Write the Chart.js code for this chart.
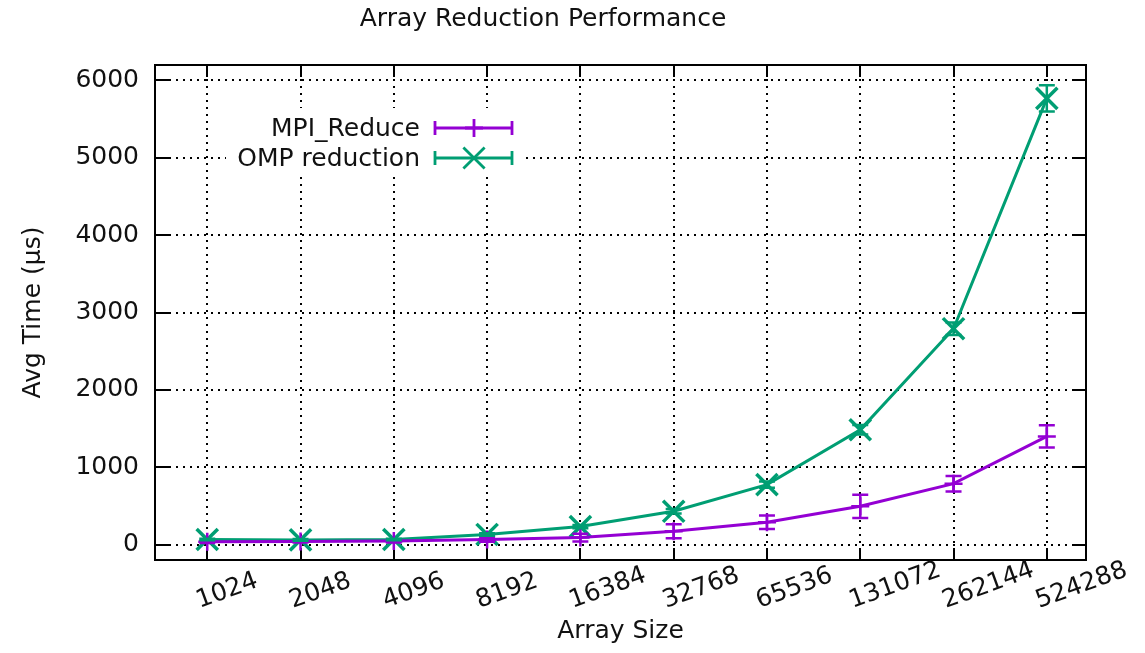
<!DOCTYPE html>
<html>
<head>
<meta charset="utf-8">
<script src="https://cdn.jsdelivr.net/npm/chart.js@4.4.1/dist/chart.umd.min.js"></script>
<style>
  html, body { margin: 0; padding: 0; background: #fff; }
  #wrap { width: 1145px; height: 653px; }
</style>
</head>
<body>
<div id="wrap"><canvas id="perfChart" width="1145" height="653"></canvas></div>
<script>
// values
const arraySizes = ['1024', '2048', '4096', '8192', '16384', '32768', '65536', '131072', '262144', '524288'];
const mpiTimes = [35, 40, 45, 65, 90, 172, 288, 494, 787, 1398];
const mpiErr   = [15, 15, 20, 30, 50, 90, 86, 150, 100, 145];
const ompTimes = [65, 60, 65, 130, 232, 430, 774, 1484, 2790, 5768];
const ompErr   = [10, 10, 10, 15, 20, 30, 40, 60, 80, 170];
const yTickValues = [0, 1000, 2000, 3000, 4000, 5000, 6000];

const FONT = 'DejaVu Sans';
const FSIZE = 25;
const PURPLE = '#9400d3';
const GREEN = '#009e73';

const toPoints = vals => vals.map((v, i) => ({ x: i, y: v }));

// gnuplot look: full frame, inward ticks, opaque key, error bars, rotated xtics
const gnuplotDecor = {
    id: 'gnuplotDecor',
    beforeDatasetsDraw(chart) {
        const { ctx, chartArea: a, scales: { x, y } } = chart;
        ctx.save();

        // opaque key box
        ctx.fillStyle = '#fff';
        ctx.fillRect(226, 108, 300, 68);

        ctx.strokeStyle = '#000';
        ctx.lineWidth = 2;
        ctx.strokeRect(a.left, a.top, a.right - a.left, a.bottom - a.top);

        ctx.beginPath();
        y.ticks.forEach(t => {
            const py = Math.round(y.getPixelForValue(t.value));
            ctx.moveTo(a.left, py); ctx.lineTo(a.left + 14, py);
            ctx.moveTo(a.right, py); ctx.lineTo(a.right - 14, py);
        });
        x.ticks.forEach(t => {
            const px = Math.round(x.getPixelForValue(t.value));
            ctx.moveTo(px, a.bottom); ctx.lineTo(px, a.bottom - 11);
            ctx.moveTo(px, a.top); ctx.lineTo(px, a.top + 12);
        });
        ctx.stroke();

        // key entries
        const rows = [128, 158];
        ctx.font = FSIZE + 'px ' + FONT;
        ctx.textAlign = 'right';
        ctx.textBaseline = 'middle';
        chart.data.datasets.forEach((ds, i) => {
            const ry = rows[i];
            ctx.fillStyle = '#111';
            ctx.fillText(ds.label, 420, ry + 1);
            ctx.strokeStyle = ds.borderColor;
            ctx.lineWidth = 2.8;
            ctx.beginPath();
            ctx.moveTo(435, ry); ctx.lineTo(512, ry);
            ctx.moveTo(435, ry - 7); ctx.lineTo(435, ry + 7);
            ctx.moveTo(512, ry - 7); ctx.lineTo(512, ry + 7);
            ctx.stroke();
            Chart.helpers.drawPoint(ctx, {
                pointStyle: ds.pointStyle, radius: ds.pointRadius, rotation: 0,
                borderWidth: ds.pointBorderWidth
            }, 474, ry);
        });
        ctx.restore();
    },
    afterDatasetsDraw(chart) {
        const { ctx, scales: { y } } = chart;
        ctx.save();
        chart.data.datasets.forEach((ds, di) => {
            const meta = chart.getDatasetMeta(di);
            ctx.strokeStyle = ds.borderColor;
            ctx.lineWidth = 2.5;
            ctx.beginPath();
            meta.data.forEach((pt, i) => {
                const v = ds.data[i].y, e = ds.errors[i];
                const top = y.getPixelForValue(v + e);
                const bot = y.getPixelForValue(v - e);
                ctx.moveTo(pt.x, top); ctx.lineTo(pt.x, bot);
                ctx.moveTo(pt.x - 8, top); ctx.lineTo(pt.x + 8, top);
                ctx.moveTo(pt.x - 8, bot); ctx.lineTo(pt.x + 8, bot);
            });
            ctx.stroke();
        });
        ctx.restore();
    },
    afterDraw(chart) {
        const { ctx, chartArea: a, scales: { x } } = chart;
        ctx.save();
        ctx.font = FSIZE + 'px ' + FONT;
        ctx.fillStyle = '#111';
        ctx.textAlign = 'left';
        ctx.textBaseline = 'middle';
        x.ticks.forEach(t => {
            const px = x.getPixelForValue(t.value);
            ctx.save();
            ctx.translate(px - 10, a.bottom + 42);
            ctx.rotate(-20 * Math.PI / 180);
            ctx.fillText(arraySizes[t.value], 0, 0);
            ctx.restore();
        });
        ctx.restore();
    }
};

const ctx = document.getElementById('perfChart').getContext('2d');
new Chart(ctx, {
    type: 'line',
    data: {
        datasets: [
            {
                label: 'MPI_Reduce',
                data: toPoints(mpiTimes),
                errors: mpiErr,
                borderColor: PURPLE,
                backgroundColor: PURPLE,
                borderWidth: 3,
                pointStyle: 'cross',
                pointRadius: 9,
                pointBorderWidth: 2.5,
                tension: 0
            },
            {
                label: 'OMP reduction',
                data: toPoints(ompTimes),
                errors: ompErr,
                borderColor: GREEN,
                backgroundColor: GREEN,
                borderWidth: 3,
                pointStyle: 'crossRot',
                pointRadius: 15,
                pointBorderWidth: 3.5,
                tension: 0
            }
        ]
    },
    options: {
        responsive: false,
        animation: false,
        devicePixelRatio: 1,
        layout: { padding: { left: 0, right: 59, top: 0, bottom: 0 } },
        plugins: {
            legend: { display: false },
            tooltip: { enabled: false },
            title: {
                display: true,
                text: 'Array Reduction Performance',
                color: '#111',
                font: { family: FONT, size: FSIZE, weight: 'normal' },
                padding: { top: 4, bottom: 31 }
            }
        },
        scales: {
            x: {
                type: 'linear',
                min: -0.56,
                max: 9.42,
                afterBuildTicks: s => { s.ticks = arraySizes.map((_, i) => ({ value: i })); },
                afterFit: s => { s.height = 93; },
                ticks: { display: false },
                grid: { color: '#000', lineWidth: 2, drawTicks: false },
                border: { display: false, dash: [2, 5] },
                title: {
                    display: true,
                    text: 'Array Size',
                    color: '#111',
                    font: { family: FONT, size: FSIZE },
                    padding: { top: 0, bottom: 7 }
                }
            },
            y: {
                min: -200,
                max: 6200,
                afterBuildTicks: s => { s.ticks = yTickValues.map(v => ({ value: v })); },
                afterFit: s => { s.width = 155; },
                ticks: {
                    color: '#111',
                    padding: 16,
                    font: { family: FONT, size: FSIZE },
                    callback: v => String(v)
                },
                grid: { color: '#000', lineWidth: 2, drawTicks: false },
                border: { display: false, dash: [2, 5] },
                title: {
                    display: true,
                    text: 'Avg Time (µs)',
                    color: '#111',
                    font: { family: FONT, size: FSIZE },
                    padding: { top: 18, bottom: 0 }
                }
            }
        }
    },
    plugins: [gnuplotDecor]
});
</script>
</body>
</html>
